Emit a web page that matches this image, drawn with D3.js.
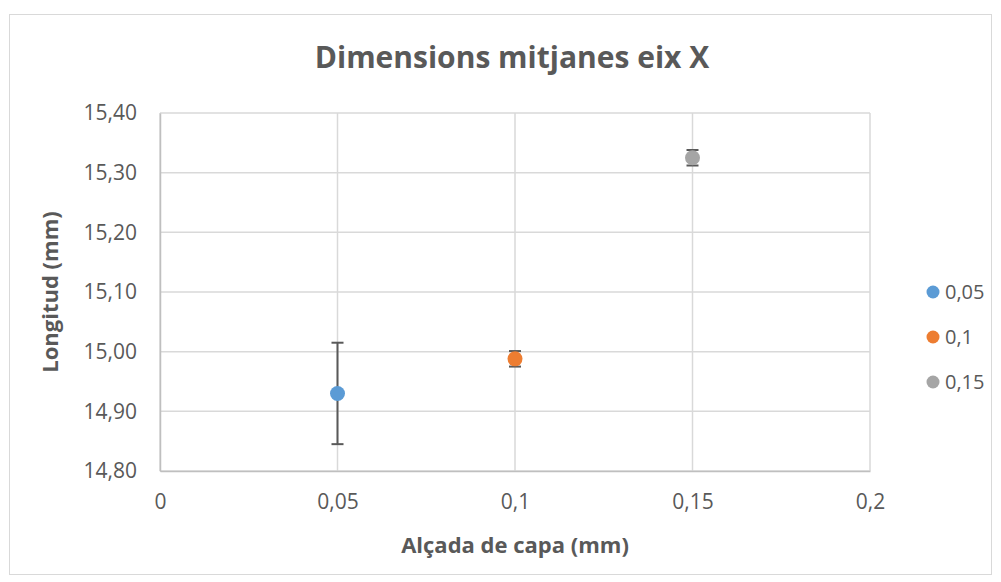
<!DOCTYPE html>
<html>
<head>
<meta charset="utf-8">
<script src="https://cdn.jsdelivr.net/npm/d3@7"></script>
<style>
  body { margin: 0; background: #fff; }
  text { font-family: "Open Sans", "Noto Sans", sans-serif; fill: #595959; }
</style>
</head>
<body>
<script>
// data
const series = ["0,05", "0,1", "0,15"];
const xValues = [0.05, 0.1, 0.15];
const yValues = [14.930, 14.988, 15.325];
const yErrors = [0.085, 0.013, 0.013];
const colors = ["#5B9BD5", "#ED7D31", "#A5A5A5"];
const xTicks = [0, 0.05, 0.1, 0.15, 0.2];
const yTicks = [14.8, 14.9, 15.0, 15.1, 15.2, 15.3, 15.4];

var W = 1001, H = 582;
var margin = {top: 113, right: 131, bottom: 111, left: 160},
    width = W - margin.left - margin.right,
    height = H - margin.top - margin.bottom;

var fmt = function (d) { return String(d).replace(".", ","); };
var fmtY = function (d) { return d.toFixed(2).replace(".", ","); };

var x = d3.scaleLinear().domain([0, 0.2]).range([0, width]);
var y = d3.scaleLinear().domain([14.8, 15.4]).range([height, 0]);

var svg = d3.select("body").append("svg")
    .attr("width", W)
    .attr("height", H);

// chart frame
svg.append("rect")
    .attr("x", 9.5).attr("y", 14.5)
    .attr("width", W - 19).attr("height", H - 22)
    .attr("fill", "#fff").attr("stroke", "#d9d9d9");

var g = svg.append("g")
    .attr("transform", "translate(" + margin.left + "," + margin.top + ")");

// grid lines
g.selectAll(".hgrid").data(yTicks).enter().append("line")
    .attr("x1", 0).attr("x2", width)
    .attr("y1", d => y(d)).attr("y2", d => y(d))
    .attr("stroke", "#d9d9d9").attr("stroke-width", 1.5);
g.selectAll(".vgrid").data(xTicks).enter().append("line")
    .attr("y1", 0).attr("y2", height)
    .attr("x1", d => x(d)).attr("x2", d => x(d))
    .attr("stroke", "#d9d9d9").attr("stroke-width", 1.5);

// axes
var xAxis = d3.axisBottom(x).tickValues(xTicks).tickFormat(fmt).tickSize(0).tickPadding(23);
var yAxis = d3.axisLeft(y).tickValues(yTicks).tickFormat(fmtY).tickSize(0).tickPadding(23);

g.append("g").attr("transform", "translate(0," + height + ")").call(xAxis)
    .call(a => a.select(".domain").attr("stroke", "#bfbfbf").attr("stroke-width", 1.5))
    .selectAll("text").style("font-size", "21px").attr("fill", "#595959");
g.append("g").call(yAxis)
    .call(a => a.select(".domain").attr("stroke", "#bfbfbf").attr("stroke-width", 1.5))
    .selectAll("text").style("font-size", "21px").attr("fill", "#595959");

// error bars
var pts = series.map((s, i) => ({name: s, x: xValues[i], y: yValues[i], e: yErrors[i], c: colors[i]}));
var eb = g.selectAll(".err").data(pts).enter().append("g").attr("stroke", "#595959").attr("stroke-width", 2);
eb.append("line")
    .attr("x1", d => x(d.x)).attr("x2", d => x(d.x))
    .attr("y1", d => y(d.y + d.e)).attr("y2", d => y(d.y - d.e));
eb.append("line")
    .attr("x1", d => x(d.x) - 6).attr("x2", d => x(d.x) + 6)
    .attr("y1", d => y(d.y + d.e)).attr("y2", d => y(d.y + d.e));
eb.append("line")
    .attr("x1", d => x(d.x) - 6).attr("x2", d => x(d.x) + 6)
    .attr("y1", d => y(d.y - d.e)).attr("y2", d => y(d.y - d.e));

// points
g.selectAll(".pt").data(pts).enter().append("circle")
    .attr("cx", d => x(d.x)).attr("cy", d => y(d.y))
    .attr("r", 7.5).attr("fill", d => d.c);

// title
svg.append("text")
    .attr("x", 512).attr("y", 68)
    .attr("text-anchor", "middle")
    .style("font-size", "30px").style("font-weight", "bold")
    .text("Dimensions mitjanes eix X");

// axis titles
svg.append("text")
    .attr("x", margin.left + width / 2).attr("y", 553)
    .attr("text-anchor", "middle")
    .style("font-size", "22px").style("font-weight", "bold")
    .text("Alçada de capa (mm)");
svg.append("text")
    .attr("transform", "translate(58," + (margin.top + height / 2) + ") rotate(-90)")
    .attr("text-anchor", "middle")
    .style("font-size", "22px").style("font-weight", "bold")
    .text("Longitud (mm)");

// legend
var leg = svg.selectAll(".leg").data(pts).enter().append("g")
    .attr("transform", (d, i) => "translate(933," + (292 + i * 45) + ")");
leg.append("circle").attr("r", 6.5).attr("fill", d => d.c);
leg.append("text").attr("x", 12).attr("dy", "0.35em")
    .style("font-size", "20px").text(d => d.name);
</script>
</body>
</html>
